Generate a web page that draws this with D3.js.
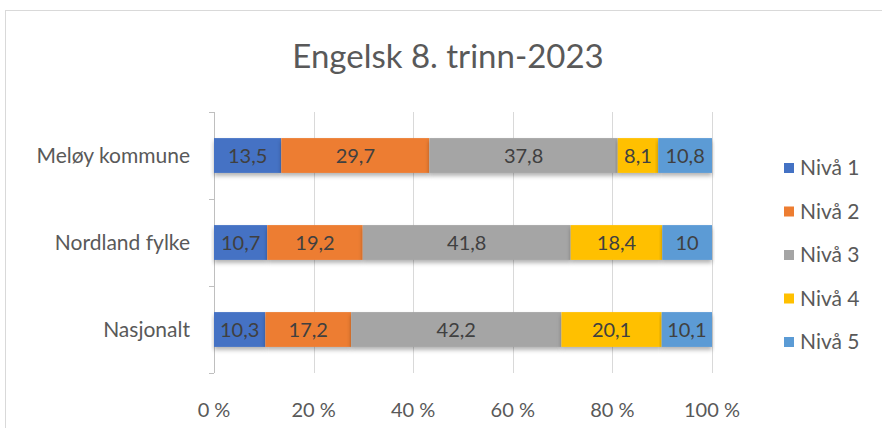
<!DOCTYPE html>
<html>
<head>
<meta charset="utf-8">
<script src="https://cdn.jsdelivr.net/npm/d3@7"></script>
<style>
  body { margin: 0; background: #fff; }
  svg { display: block; font-family: Lato, "Open Sans", sans-serif; }
</style>
</head>
<body>
<div id="chart"></div>
<script>
// data
var categories = ["Meløy kommune", "Nordland fylke", "Nasjonalt"];
var levels = ["Nivå 1", "Nivå 2", "Nivå 3", "Nivå 4", "Nivå 5"];
var colors = ["#4472C4", "#ED7D31", "#A5A5A5", "#FFC000", "#5B9BD5"];
var niva1 = [13.5, 10.7, 10.3];
var niva2 = [29.7, 19.2, 17.2];
var niva3 = [37.8, 41.8, 42.2];
var niva4 = [8.1, 18.4, 20.1];
var niva5 = [10.8, 10, 10.1];
var xTicks = [0, 0.2, 0.4, 0.6, 0.8, 1];

var width = 882, height = 428;
var margin = {top: 112, right: 170, bottom: 55, left: 214};

var svg = d3.select("#chart").append("svg")
    .attr("width", width)
    .attr("height", height);

// drop shadow like excel
var defs = svg.append("defs");
var f = defs.append("filter").attr("id", "shadow")
    .attr("x", "-5%").attr("y", "-20%").attr("width", "110%").attr("height", "160%");
f.append("feDropShadow").attr("dx", 0).attr("dy", 3).attr("stdDeviation", 2)
    .attr("flood-color", "#000").attr("flood-opacity", 0.3);

// chart frame
svg.append("rect")
    .attr("x", 5.5).attr("y", 10.5)
    .attr("width", 900).attr("height", 440)
    .attr("fill", "#fff")
    .attr("stroke", "#D9D9D9");

svg.append("text")
    .attr("x", 448)
    .attr("y", 68)
    .attr("text-anchor", "middle")
    .attr("fill", "#595959")
    .style("font-size", "33px")
    .text("Engelsk 8. trinn-2023");

var series = [niva1, niva2, niva3, niva4, niva5];
var rows = categories.map(function(c, i) {
  var r = {cat: c};
  levels.forEach(function(l, j) { r[l] = series[j][i]; });
  return r;
});

var stack = d3.stack().keys(levels).offset(d3.stackOffsetExpand);
var stacked = stack(rows);

var x = d3.scaleLinear()
    .domain([0, 1])
    .range([margin.left, 712]);

var y = d3.scaleBand()
    .domain(categories)
    .range([margin.top, height - margin.bottom])
    .paddingInner(0.6)
    .paddingOuter(0.3);

// gridlines
svg.append("g")
    .selectAll("line")
    .data(xTicks)
    .enter().append("line")
    .attr("x1", function(d) { return Math.round(x(d)) + 0.5; })
    .attr("x2", function(d) { return Math.round(x(d)) + 0.5; })
    .attr("y1", margin.top)
    .attr("y2", height - margin.bottom)
    .attr("stroke", "#D9D9D9");

// y axis line + ticks at band boundaries
var bounds = d3.range(categories.length + 1).map(function(i) {
  return margin.top + i * (height - margin.bottom - margin.top) / categories.length;
});
var yax = svg.append("g");
yax.append("line")
    .attr("x1", x(0) + 0.5).attr("x2", x(0) + 0.5)
    .attr("y1", margin.top).attr("y2", height - margin.bottom)
    .attr("stroke", "#BFBFBF");
yax.selectAll("line.tk")
    .data(bounds)
    .enter().append("line")
    .attr("class", "tk")
    .attr("x1", x(0) - 5).attr("x2", x(0))
    .attr("y1", function(d) { return Math.round(d) + 0.5; })
    .attr("y2", function(d) { return Math.round(d) + 0.5; })
    .attr("stroke", "#BFBFBF");

// bars
var fmt = function(v) { return String(v).replace(".", ","); };

var groups = svg.append("g").selectAll("g")
    .data(stacked)
    .enter().append("g")
    .attr("fill", function(d, i) { return colors[i]; });

groups.selectAll("rect")
    .data(function(d) { return d; })
    .enter().append("rect")
    .attr("x", function(d) { return x(d[0]); })
    .attr("width", function(d) { return x(d[1]) - x(d[0]); })
    .attr("y", function(d) { return y(d.data.cat); })
    .attr("height", y.bandwidth())
    .attr("filter", "url(#shadow)");

// data labels
stacked.forEach(function(s) {
  svg.append("g").selectAll("text")
      .data(s)
      .enter().append("text")
      .attr("x", function(d) { return (x(d[0]) + x(d[1])) / 2; })
      .attr("y", function(d) { return y(d.data.cat) + y.bandwidth() / 2; })
      .attr("dy", "0.35em")
      .attr("text-anchor", "middle")
      .attr("fill", "#404040")
      .style("font-size", "20px")
      .text(function(d) { return fmt(d.data[s.key]); });
});

// category labels
svg.append("g").selectAll("text")
    .data(categories)
    .enter().append("text")
    .attr("x", 190)
    .attr("y", function(d) { return y(d) + y.bandwidth() / 2; })
    .attr("dy", "0.35em")
    .attr("text-anchor", "end")
    .attr("fill", "#595959")
    .style("font-size", "21px")
    .text(function(d) { return d; });

// x tick labels
svg.append("g").selectAll("text")
    .data(xTicks)
    .enter().append("text")
    .attr("x", function(d) { return x(d); })
    .attr("y", 410)
    .attr("dy", "0.35em")
    .attr("text-anchor", "middle")
    .attr("fill", "#595959")
    .style("font-size", "20px")
    .text(function(d) { return Math.round(d * 100) + " %"; });

// legend
var leg = svg.append("g").selectAll("g")
    .data(levels)
    .enter().append("g")
    .attr("transform", function(d, i) { return "translate(784," + (168 + i * 43.5) + ")"; });
leg.append("rect")
    .attr("x", 0).attr("y", -5)
    .attr("width", 10).attr("height", 10)
    .attr("fill", function(d, i) { return colors[i]; });
leg.append("text")
    .attr("x", 16)
    .attr("dy", "0.35em")
    .attr("fill", "#595959")
    .style("font-size", "21px")
    .text(function(d) { return d; });
</script>
</body>
</html>
